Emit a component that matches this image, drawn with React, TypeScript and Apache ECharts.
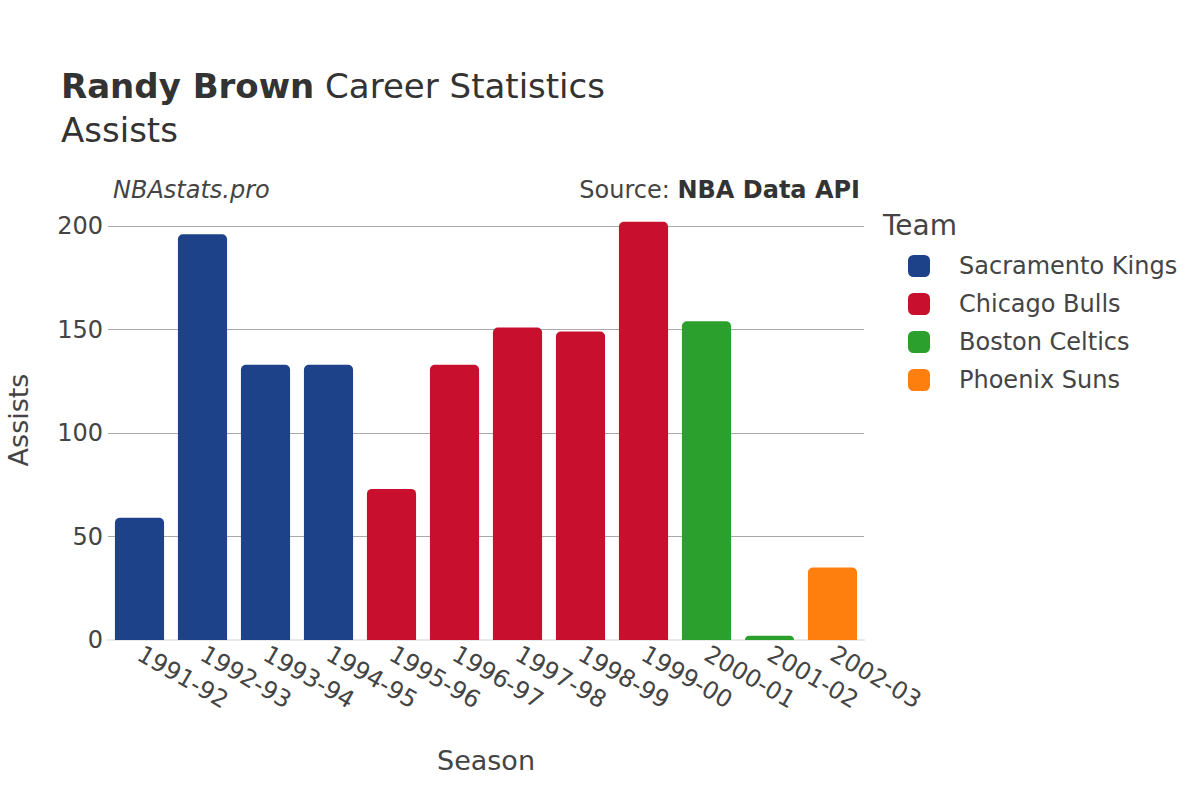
import React, { useEffect, useRef } from "react";
import * as echarts from "echarts";

const seasons = ["1991-92", "1992-93", "1993-94", "1994-95", "1995-96", "1996-97", "1997-98", "1998-99", "1999-00", "2000-01", "2001-02", "2002-03"];
const teams = ["Sacramento Kings", "Chicago Bulls", "Boston Celtics", "Phoenix Suns"];
const teamColors = ["#1d428a", "#c8102e", "#2ca02c", "#ff7f0e"];
const seasonTeam = [0, 0, 0, 0, 1, 1, 1, 1, 1, 2, 2, 3];
const assists = [59, 196, 133, 133, 73, 133, 151, 149, 202, 154, 2, 35];
const yTicks = [0, 50, 100, 150, 200];

const FONT = "DejaVu Sans";
const TXT = "#444444";

export default function App() {
  const ref = useRef<HTMLDivElement>(null);
  useEffect(() => {
    if (!ref.current) return;
    const chart = echarts.init(ref.current, undefined, { renderer: "svg" });
    const series = teams.map((t, ti) => ({
      name: t,
      type: "bar",
      stack: "all",
      clip: false,
      barCategoryGap: "22%",
      itemStyle: { color: teamColors[ti], borderRadius: [5, 5, 0, 0] },
      data: assists.map((v, i) => (seasonTeam[i] === ti ? v : null)),
    }));
    chart.setOption({
      animation: false,
      textStyle: { fontFamily: FONT },
      grid: { left: 108, width: 756, top: 226, height: 414, containLabel: false, outerBoundsMode: "none" },
      xAxis: {
        type: "category",
        data: seasons,
        name: "Season",
        nameLocation: "middle",
        nameGap: 107,
        nameTextStyle: { fontSize: 27, color: TXT, fontFamily: FONT },
        axisLine: { show: true, lineStyle: { color: "#e8e8e8", width: 2 } },
        axisTick: { show: false },
        axisLabel: { interval: 0, rotate: -30, fontSize: 24, color: TXT, fontFamily: FONT, margin: 12 },
      },
      yAxis: {
        type: "value",
        min: yTicks[0],
        max: yTicks[yTicks.length - 1],
        interval: 50,
        name: "Assists",
        nameLocation: "middle",
        nameGap: 76,
        nameTextStyle: { fontSize: 27, color: TXT, fontFamily: FONT, padding: [0, 0, 0, 26] },
        axisLine: { show: false },
        axisTick: { show: false },
        axisLabel: { fontSize: 24, color: TXT, fontFamily: FONT, margin: 5 },
        splitLine: { lineStyle: { color: "#aaaaaa", width: 1 } },
      },
      legend: {
        orient: "vertical",
        left: 908,
        top: 254,
        padding: 0,
        itemWidth: 22,
        itemHeight: 22,
        itemGap: 14,
        icon: "roundRect",
        textStyle: { fontSize: 24, color: TXT, fontFamily: FONT, padding: [0, 0, 0, 24] },
        data: teams,
      },
      graphic: [
        {
          type: "text",
          left: 61,
          top: 69,
          style: {
            text: "{b|Randy Brown} Career Statistics",
            font: `34px '${FONT}'`,
            fill: "#333333",
            rich: { b: { fontWeight: "bold", fontSize: 34, fontFamily: FONT, fill: "#333333" } },
          },
        },
        {
          type: "text",
          left: 61,
          top: 113,
          style: { text: "Assists", font: `34px '${FONT}'`, fill: "#333333" },
        },
        {
          type: "text",
          left: 113,
          top: 178,
          style: { text: "NBAstats.pro", font: `italic 24px '${FONT}'`, fill: TXT },
        },
        {
          type: "text",
          right: 340,
          top: 178,
          style: {
            text: "Source: {b|NBA Data API}",
            font: `24px '${FONT}'`,
            fill: TXT,
            rich: { b: { fontWeight: "bold", fontSize: 24, fontFamily: FONT, fill: "#333333" } },
          },
        },
        {
          type: "text",
          left: 883,
          top: 211,
          style: { text: "Team", font: `28px '${FONT}'`, fill: TXT },
        },
      ],
      series,
    });
    return () => chart.dispose();
  }, []);
  return <div ref={ref} style={{ position: "fixed", left: 0, top: 0, width: 1200, height: 800, background: "#fff" }} />;
}
